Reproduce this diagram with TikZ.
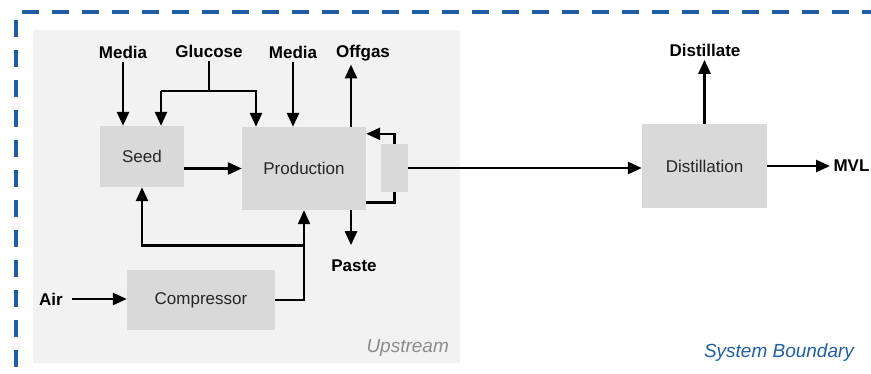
\documentclass[tikz,border=0pt]{standalone}
\usepackage{fontspec}
\setmainfont{Liberation Sans}
\usetikzlibrary{arrows.meta}
\definecolor{boxgrey}{RGB}{217,217,217}
\definecolor{panelgrey}{RGB}{242,242,242}
\definecolor{sysblue}{RGB}{31,94,163}
\begin{document}
\begin{tikzpicture}[x=1pt,y=-1pt,
    box/.style={fill=boxgrey,inner sep=0pt,text=black!85,font=\fontsize{17}{20}\selectfont},
    lbl/.style={font=\fontsize{17}{20}\selectfont\bfseries},
    line/.style={line width=2.6pt},
    flow/.style={line width=2.6pt,-{Triangle[length=14pt,width=12pt]}}]
  \useasboundingbox (0,0) rectangle (871,373);
  % boundary and upstream area
  \draw[sysblue,line width=3.6pt,dash pattern=on 17pt off 13pt] (16,20) -- (16,380);
  \draw[sysblue,line width=3.6pt,dash pattern=on 17pt off 13pt] (22,12) -- (880,12);
  \node[fill=panelgrey,anchor=north west,minimum width=427pt,minimum height=333pt,inner sep=0pt] (upstream) at (33,30) {};
  \node[anchor=south east,text=black!45,font=\fontsize{19}{22}\selectfont\itshape] at ([xshift=-8pt,yshift=3pt]upstream.south east) {Upstream};
  \node[text=sysblue,font=\fontsize{19}{22}\selectfont\itshape] at (779,353) {System Boundary};
  % units
  \node[box,minimum width=84pt,minimum height=61pt] (seed) at (142,156.5) {Seed};
  \node[box,minimum width=124pt,minimum height=83pt] (prod) at (304,168.5) {Production};
  \node[box,minimum width=27pt,minimum height=48pt] (sep) at (394.5,168) {};
  \node[box,minimum width=148pt,minimum height=60pt] (comp) at (201,300) {Compressor};
  \node[box,minimum width=125pt,minimum height=84pt] (dist) at (704.5,166) {Distillation};
  % streams
  \node[lbl] (media1) at (123,52) {Media};
  \node[lbl] (glucose) at (209,51) {Glucose};
  \node[lbl] (media2) at (293,52) {Media};
  \node[lbl] (offgas) at (363,53) {Offgas};
  \node[lbl] (paste) at (354,266) {Paste};
  \node[lbl] (air) at (51,299) {Air};
  \node[lbl] (distillate) at (705,50) {Distillate};
  \node[lbl,anchor=west] (mvl) at (830,166) {MVL};
  \coordinate (gl) at (161,91);
  \coordinate (gr) at (256,91);
  \path (prod.south) ++(0,35) coordinate (split);
  \draw[flow] (media1.south) -- (media1.south |- seed.north);
  \draw[line] (glucose.south) -- (glucose.south |- gl);
  \draw[flow] (gl) -- (gl |- seed.north);
  \draw[flow] (gl) -- (gr) -- (gr |- prod.north);
  \draw[flow] (media2.south) -- (media2.south |- prod.north);
  \draw[flow] ([xshift=47pt]prod.north) -- ([xshift=47pt]prod.north |- offgas.south);
  \draw[flow] ([xshift=47pt]prod.south) -- ([xshift=47pt,yshift=-35pt]prod.south);
  \draw[flow] (seed.east |- prod.west) -- (prod.west);
  \draw[flow] ([xshift=6pt]air.east) -- (comp.west |- air.east);
  \draw[flow] (comp.east) -| (prod.south);
  \draw[flow] (split) -| (seed.south);
  \draw[line] ([yshift=8pt]prod.south east) -| (sep.south);
  \draw[flow] (sep.north) |- ([yshift=-7pt]prod.north east);
  \draw[flow] (sep.east) -- (dist.west |- sep.east);
  \draw[flow] (dist.north) -- (dist.north |- distillate.south);
  \draw[flow] (dist.east) -- (mvl.west |- dist.east);
\end{tikzpicture}
\end{document}
